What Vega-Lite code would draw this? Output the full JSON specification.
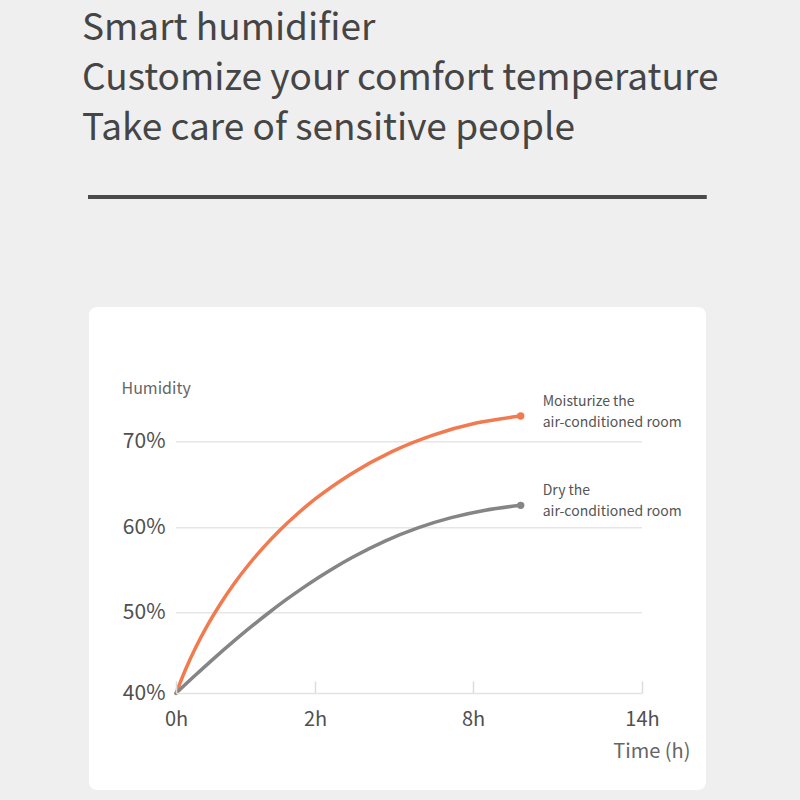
{
  "$schema": "https://vega.github.io/schema/vega-lite/v6.json",
  "autosize": {"type": "none"},
  "width": 466,
  "height": 313,
  "padding": {"left": 176, "top": 380, "right": 158, "bottom": 107},
  "background": "#efefef",
  "config": {"font": "Noto Sans CJK SC", "view": {"stroke": null}},
  "title": {
    "text": ["Smart humidifier", "Customize your comfort temperature", "Take care of sensitive people"],
    "anchor": "start",
    "frame": "group",
    "dx": -94,
    "fontSize": 37,
    "fontWeight": "normal",
    "color": "#454545",
    "lineHeight": 50,
    "offset": 47
  },
  "datasets": {
    "curves": [
      {"series": "Moisturize", "hours": 0, "humidity": 40},
      {"series": "Moisturize", "hours": 0.1374, "humidity": 42.96},
      {"series": "Moisturize", "hours": 0.2904, "humidity": 45.8},
      {"series": "Moisturize", "hours": 0.4581, "humidity": 48.52},
      {"series": "Moisturize", "hours": 0.6401, "humidity": 51.06},
      {"series": "Moisturize", "hours": 0.8357, "humidity": 53.41},
      {"series": "Moisturize", "hours": 1.0442, "humidity": 55.64},
      {"series": "Moisturize", "hours": 1.2649, "humidity": 57.74},
      {"series": "Moisturize", "hours": 1.4971, "humidity": 59.73},
      {"series": "Moisturize", "hours": 1.7406, "humidity": 61.57},
      {"series": "Moisturize", "hours": 1.9942, "humidity": 63.28},
      {"series": "Moisturize", "hours": 3.3994, "humidity": 66.31},
      {"series": "Moisturize", "hours": 4.9028, "humidity": 68.82},
      {"series": "Moisturize", "hours": 6.4814, "humidity": 70.77},
      {"series": "Moisturize", "hours": 8.1143, "humidity": 72.17},
      {"series": "Moisturize", "hours": 9.6933, "humidity": 72.99},
      {"series": "Dry", "hours": 0, "humidity": 40},
      {"series": "Dry", "hours": 0.2768, "humidity": 42.23},
      {"series": "Dry", "hours": 0.5468, "humidity": 44.34},
      {"series": "Dry", "hours": 0.8104, "humidity": 46.31},
      {"series": "Dry", "hours": 1.0683, "humidity": 48.17},
      {"series": "Dry", "hours": 1.3213, "humidity": 49.9},
      {"series": "Dry", "hours": 1.5699, "humidity": 51.44},
      {"series": "Dry", "hours": 1.8154, "humidity": 52.86},
      {"series": "Dry", "hours": 2.1496, "humidity": 54.17},
      {"series": "Dry", "hours": 2.7815, "humidity": 55.39},
      {"series": "Dry", "hours": 3.4089, "humidity": 56.5},
      {"series": "Dry", "hours": 4.6571, "humidity": 58.43},
      {"series": "Dry", "hours": 5.9077, "humidity": 59.98},
      {"series": "Dry", "hours": 7.1741, "humidity": 61.17},
      {"series": "Dry", "hours": 8.4402, "humidity": 62.04},
      {"series": "Dry", "hours": 9.6933, "humidity": 62.6}
    ],
    "ends": [
      {"series": "Moisturize", "hours": 9.6933, "humidity": 72.99, "label": "Moisturize the\nair-conditioned room"},
      {"series": "Dry", "hours": 9.6933, "humidity": 62.6, "label": "Dry the\nair-conditioned room"}
    ],
    "grid": [{"v": 50}, {"v": 60}, {"v": 70}]
  },
  "layer": [
    {
      "data": {"values": [{}]},
      "mark": {"type": "rule", "color": "#4a4a4a", "strokeWidth": 4},
      "encoding": {
        "x": {"datum": -1.266, "type": "quantitative"},
        "x2": {"datum": 16.3},
        "y": {"datum": 98.45, "type": "quantitative"}
      }
    },
    {
      "data": {"values": [{}]},
      "mark": {"type": "rect", "color": "white", "cornerRadius": 8},
      "encoding": {
        "x": {"datum": -1.252, "type": "quantitative"},
        "x2": {"datum": 16.27},
        "y": {"datum": 85.66, "type": "quantitative"},
        "y2": {"datum": 28.0}
      }
    },
    {
      "data": {"name": "grid"},
      "mark": {"type": "rule", "color": "#e6e6e6", "strokeWidth": 1.5},
      "encoding": {
        "x": {"datum": 0, "type": "quantitative"},
        "x2": {"datum": 14},
        "y": {"field": "v", "type": "quantitative"}
      }
    },
    {
      "data": {"name": "curves"},
      "mark": {"type": "line", "interpolate": "monotone", "strokeWidth": 3.5, "strokeCap": "round"},
      "encoding": {
        "x": {
          "field": "hours",
          "type": "quantitative",
          "scale": {"domain": [0, 2, 8, 14], "range": [0, 139, 297, 466], "nice": false, "zero": false},
          "axis": {
            "values": [0, 2, 8, 14],
            "labelExpr": "datum.value + 'h'",
            "title": "Time (h)",
            "grid": false,
            "zindex": 1,
            "domainColor": "#e3e3e3",
            "domainWidth": 1.5,
            "tickColor": "#dcdcdc",
            "tickWidth": 1.5,
            "tickSize": -12,
            "labelFontSize": 20,
            "labelColor": "#505050",
            "labelPadding": 28,
            "labelFlush": false,
            "labelOverlap": false,
            "titleFontSize": 20,
            "titleFontWeight": "normal",
            "titleColor": "#666666",
            "titleAnchor": "end",
            "titleAlign": "right",
            "titleBaseline": "alphabetic",
            "titleX": 514,
            "titleY": 64
          }
        },
        "y": {
          "field": "humidity",
          "type": "quantitative",
          "scale": {"domain": [40, 50, 60, 70], "range": [313.3, 232.7, 147.7, 61.7], "nice": false, "zero": false},
          "axis": {
            "values": [40, 50, 60, 70],
            "labelExpr": "datum.value + '%'",
            "title": "Humidity",
            "grid": false,
            "zindex": 1,
            "domain": false,
            "ticks": false,
            "labelPadding": 11,
            "labelFontSize": 21,
            "labelColor": "#505050",
            "labelOverlap": false,
            "titleAngle": 0,
            "titleAlign": "left",
            "titleBaseline": "alphabetic",
            "titleX": -55,
            "titleY": 13,
            "titleFontSize": 16,
            "titleFontWeight": "normal",
            "titleColor": "#666666"
          }
        },
        "color": {
          "field": "series",
          "type": "nominal",
          "scale": {"domain": ["Moisturize", "Dry"], "range": ["#f27a4f", "#858585"]},
          "legend": null
        }
      }
    },
    {
      "data": {"name": "ends"},
      "mark": {"type": "point", "filled": true, "size": 55, "opacity": 1},
      "encoding": {
        "x": {"field": "hours", "type": "quantitative"},
        "y": {"field": "humidity", "type": "quantitative"},
        "color": {"field": "series", "type": "nominal"}
      }
    },
    {
      "data": {"name": "ends"},
      "mark": {"type": "text", "align": "left", "baseline": "middle", "dx": 22, "dy": -14, "fontSize": 14, "lineBreak": "\n", "lineHeight": 21, "color": "#555555"},
      "encoding": {
        "x": {"field": "hours", "type": "quantitative"},
        "y": {"field": "humidity", "type": "quantitative"},
        "text": {"field": "label"}
      }
    }
  ]
}
